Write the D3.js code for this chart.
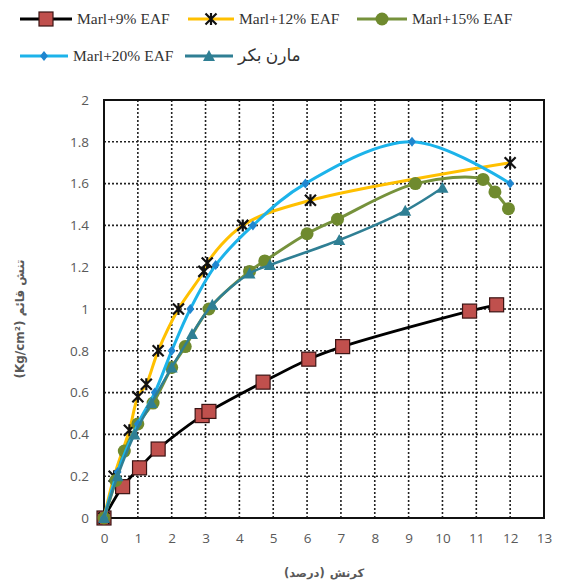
<!DOCTYPE html>
<html>
<head>
<meta charset="utf-8">
<script src="https://cdn.jsdelivr.net/npm/d3@7"></script>
<style>
  html, body { margin: 0; padding: 0; background: #fff; }
  svg { display: block; }
</style>
</head>
<body>
<svg id="chart" width="584" height="585"></svg>
<script>
// Axis ticks
const xTicks = [0, 1, 2, 3, 4, 5, 6, 7, 8, 9, 10, 11, 12, 13];
const yTicks = [0, 0.2, 0.4, 0.6, 0.8, 1, 1.2, 1.4, 1.6, 1.8, 2];

// Strain (%) and vertical stress (Kg/cm²) for each mix
const marl9X  = [0, 0.55, 1.05, 1.6, 2.9, 3.1, 4.7, 6.05, 7.05, 10.8, 11.6];
const marl9Y  = [0, 0.15, 0.24, 0.33, 0.49, 0.51, 0.65, 0.76, 0.82, 0.99, 1.02];

const marl12X = [0, 0.3, 0.75, 1.0, 1.25, 1.6, 2.2, 2.95, 3.05, 4.1, 6.1, 12];
const marl12Y = [0, 0.2, 0.42, 0.58, 0.64, 0.8, 1.0, 1.18, 1.22, 1.4, 1.52, 1.7];

const marl15X = [0, 0.35, 0.6, 1.0, 1.45, 2.0, 2.4, 3.1, 4.3, 4.75, 6.0, 6.9, 9.2, 11.2, 11.55, 11.95];
const marl15Y = [0, 0.18, 0.32, 0.45, 0.55, 0.72, 0.82, 1.0, 1.18, 1.23, 1.36, 1.43, 1.6, 1.62, 1.56, 1.48];

const marl20X = [0, 0.4, 1.0, 1.5, 2.0, 2.55, 3.3, 4.4, 5.95, 9.1, 12];
const marl20Y = [0, 0.22, 0.45, 0.6, 0.8, 1.0, 1.21, 1.4, 1.6, 1.8, 1.6];

const baseX   = [0, 0.4, 0.9, 1.4, 2.0, 2.6, 3.2, 4.3, 4.9, 6.95, 8.9, 10.0];
const baseY   = [0, 0.2, 0.4, 0.55, 0.72, 0.88, 1.02, 1.17, 1.21, 1.33, 1.47, 1.58];

const seriesNames = ["Marl+9% EAF", "Marl+12% EAF", "Marl+15% EAF", "Marl+20% EAF", "مارن بکر"];

const series = [
  { name: seriesNames[0], xs: marl9X,  ys: marl9Y,  line: "#000000", marker: "square",   fill: "#c0504d", stroke: "#3b1414", width: 2.8 },
  { name: seriesNames[1], xs: marl12X, ys: marl12Y, line: "#ffc000", marker: "star",     fill: "none",    stroke: "#111111", width: 3 },
  { name: seriesNames[2], xs: marl15X, ys: marl15Y, line: "#76923c", marker: "circle",   fill: "#6f8a2e", stroke: "#6f8a2e", width: 3 },
  { name: seriesNames[3], xs: marl20X, ys: marl20Y, line: "#1cb3ea", marker: "diamond",  fill: "#1f86cf", stroke: "#1f86cf", width: 3 },
  { name: seriesNames[4], xs: baseX,   ys: baseY,   line: "#2f7f94", marker: "triangle", fill: "#2f7f94", stroke: "#2f7f94", width: 2.5 }
];

const svg = d3.select("#chart");
const plot = { left: 104, right: 544, top: 100, bottom: 518 };

const x = d3.scaleLinear().domain([0, 13]).range([plot.left, plot.right]);
const y = d3.scaleLinear().domain([0, 2]).range([plot.bottom, plot.top]);

// Dotted grid
const grid = svg.append("g");
grid.selectAll("line.v").data(xTicks.filter(t => t > 0 && t < 13)).join("line")
  .attr("x1", d => x(d)).attr("x2", d => x(d))
  .attr("y1", plot.top).attr("y2", plot.bottom)
  .attr("stroke", "#222").attr("stroke-width", 1.6).attr("stroke-dasharray", "2,2");
grid.selectAll("line.h").data(yTicks.filter(t => t > 0 && t < 2)).join("line")
  .attr("x1", plot.left).attr("x2", plot.right)
  .attr("y1", d => y(d)).attr("y2", d => y(d))
  .attr("stroke", "#222").attr("stroke-width", 1.6).attr("stroke-dasharray", "2,2");

// Frame
svg.append("rect")
  .attr("x", plot.left).attr("y", plot.top)
  .attr("width", plot.right - plot.left).attr("height", plot.bottom - plot.top)
  .attr("fill", "none").attr("stroke", "#111").attr("stroke-width", 2);

// Axes (labels only)
const xAxis = d3.axisBottom(x).tickValues(xTicks).tickSize(0).tickPadding(15).tickFormat(d3.format("d"));
const yAxis = d3.axisLeft(y).tickValues(yTicks).tickSize(0).tickPadding(15).tickFormat(d => d3.format("")(+d.toFixed(1)));

const gx = svg.append("g").attr("transform", `translate(0,${plot.bottom})`).call(xAxis);
const gy = svg.append("g").attr("transform", `translate(${plot.left},0)`).call(yAxis);
[gx, gy].forEach(g => {
  g.select(".domain").remove();
  g.selectAll("text").attr("fill", "#595959").attr("font-family", "Open Sans, sans-serif").attr("font-size", 13.5);
});

// Axis titles
svg.append("text")
  .attr("transform", `translate(24,${(plot.top + plot.bottom) / 2 + 10}) rotate(-90)`)
  .attr("text-anchor", "middle")
  .attr("fill", "#595959").attr("font-family", "DejaVu Sans, sans-serif")
  .attr("font-size", 12).attr("font-weight", "bold")
  .text("(Kg/cm²) \u200Eتنش قائم");

// X title in right-to-left reading order: "(درصد)" sits left of "کرنش"
const titleX = (plot.left + plot.right) / 2;
const xTitleParts = ["(درصد)", "کرنش"];
const xTitle = svg.append("g").selectAll("text").data(xTitleParts).join("text")
  .attr("y", 577)
  .attr("text-anchor", "middle")
  .attr("fill", "#595959").attr("font-family", "DejaVu Sans, sans-serif")
  .attr("font-size", 11.5).attr("font-weight", "bold")
  .text(d => d);
const widths = xTitle.nodes().map(n => n.getComputedTextLength());
const gap = 5;
const total = widths[0] + gap + widths[1];
const startX = titleX - total / 2;
xTitle.attr("x", (d, i) => i === 0 ? startX + widths[0] / 2 : startX + widths[0] + gap + widths[1] / 2);

// Marker drawing
function drawMarker(g, type, s, cx, cy) {
  const t = `translate(${cx},${cy})`;
  if (type === "square") {
    g.append("rect").attr("x", cx - 7).attr("y", cy - 7).attr("width", 14).attr("height", 14)
      .attr("fill", s.fill).attr("stroke", s.stroke).attr("stroke-width", 1.2);
  } else if (type === "circle") {
    g.append("circle").attr("cx", cx).attr("cy", cy).attr("r", 6.5).attr("fill", s.fill);
  } else if (type === "diamond") {
    g.append("path").attr("transform", t).attr("d", "M0,-5L4,0L0,5L-4,0Z").attr("fill", s.fill);
  } else if (type === "triangle") {
    g.append("path").attr("transform", t).attr("d", "M0,-6L6,5L-6,5Z").attr("fill", s.fill);
  } else if (type === "star") {
    g.append("path").attr("transform", t)
      .attr("d", "M-5.5,-5.5L5.5,5.5M5.5,-5.5L-5.5,5.5M0,-6L0,6")
      .attr("stroke", s.stroke).attr("stroke-width", 2.2).attr("fill", "none");
  }
}

const lineGen = d3.line().x(d => x(d[0])).y(d => y(d[1])).curve(d3.curveCatmullRom.alpha(0.5));

series.forEach(s => {
  const pts = s.xs.map((v, i) => [v, s.ys[i]]);
  const g = svg.append("g");
  g.append("path").attr("d", lineGen(pts)).attr("fill", "none")
    .attr("stroke", s.line).attr("stroke-width", s.width).attr("stroke-linejoin", "round");
  pts.forEach(p => drawMarker(g, s.marker, s, x(p[0]), y(p[1])));
});

// Legend
const legendItems = [
  { s: series[0], lx: 20, ly: 19, w: 52, fs: 15.5 },
  { s: series[1], lx: 188, ly: 19, w: 46, fs: 15.5 },
  { s: series[2], lx: 357, ly: 19, w: 50, fs: 15.5 },
  { s: series[3], lx: 20, ly: 56, w: 48, fs: 15.5 },
  { s: series[4], lx: 185, ly: 56, w: 48, fs: 17 }
];
const lg = svg.append("g");
legendItems.forEach(it => {
  lg.append("line").attr("x1", it.lx).attr("x2", it.lx + it.w).attr("y1", it.ly).attr("y2", it.ly)
    .attr("stroke", it.s.line).attr("stroke-width", 3);
  drawMarker(lg, it.s.marker, it.s, it.lx + it.w / 2, it.ly);
  lg.append("text").attr("x", it.lx + it.w + 5).attr("y", it.ly + 5)
    .attr("fill", "#333").attr("font-family", "Liberation Serif, DejaVu Sans, serif")
    .attr("font-size", it.fs)
    .text(it.s.name);
});
</script>
</body>
</html>
